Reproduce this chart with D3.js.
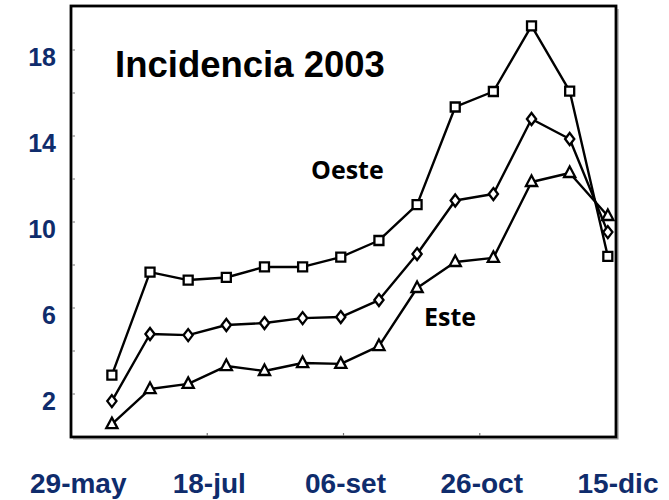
<!DOCTYPE html>
<html>
<head>
<meta charset="utf-8">
<script src="https://cdn.jsdelivr.net/npm/d3@7"></script>
<style>
  html, body { margin: 0; padding: 0; background: #fff; }
  svg { display: block; }
</style>
</head>
<body>
<svg id="chart" width="669" height="500"></svg>
<script>
// ---- Data ----
const fechas = ["2003-06-13","2003-06-27","2003-07-11","2003-07-25","2003-08-08","2003-08-22",
                "2003-09-05","2003-09-19","2003-10-03","2003-10-17","2003-10-31","2003-11-14",
                "2003-11-28","2003-12-12"];
const oeste  = [2.88, 7.67, 7.30, 7.42, 7.91, 7.91, 8.37, 9.14, 10.81, 15.35, 16.07, 19.12, 16.09, 8.40];
const media  = [1.67, 4.79, 4.74, 5.21, 5.30, 5.53, 5.58, 6.37, 8.51, 11.00, 11.30, 14.79, 13.86, 9.53];
const este   = [0.60, 2.23, 2.47, 3.30, 3.07, 3.44, 3.40, 4.23, 6.93, 8.14, 8.33, 11.86, 12.28, 10.28];

const xTickFechas = ["2003-05-29","2003-07-18","2003-09-06","2003-10-26","2003-12-15"];
const xTickLabels = ["29-may","18-jul","06-set","26-oct","15-dic"];
const yTickValues = [2, 4, 6, 8, 10, 12, 14, 16, 18];
const yTickLabels = [2, 6, 10, 14, 18];
const titulo = "Incidencia 2003";
const serieLabels = ["Oeste", "Este"];

// ---- Layout ----
const parse = d3.timeParse("%Y-%m-%d");
const svg = d3.select("#chart");
const plot = { left: 71, right: 616, top: 7, bottom: 437 };
const navy = "#0f2c6c";

const x = d3.scaleTime()
  .domain([parse(xTickFechas[0]), parse(xTickFechas[xTickFechas.length - 1])])
  .range([plot.left, plot.right]);
const y = d3.scaleLinear().domain([0, 20]).range([plot.bottom, plot.top]);

// frame shadow
svg.append("path")
  .attr("d", `M${plot.right + 2},${plot.top + 2} V${plot.bottom + 2} H${plot.left + 2}`)
  .attr("fill", "none").attr("stroke", "#9a9a9a").attr("stroke-width", 1.2);

// frame
svg.append("rect")
  .attr("x", plot.left).attr("y", plot.top - 1)
  .attr("width", plot.right - plot.left).attr("height", plot.bottom - plot.top + 1)
  .attr("fill", "none").attr("stroke", "#000").attr("stroke-width", 2.8);

// y minor ticks (inward)
svg.append("g").selectAll("line").data(yTickValues).join("line")
  .attr("x1", plot.left + 1).attr("x2", plot.left + 4)
  .attr("y1", d => y(d)).attr("y2", d => y(d))
  .attr("stroke", "#777").attr("stroke-width", 1);

// x ticks (inward)
svg.append("g").selectAll("line").data(xTickFechas.slice(1, -1)).join("line")
  .attr("x1", d => x(parse(d))).attr("x2", d => x(parse(d)))
  .attr("y1", plot.bottom - 1).attr("y2", plot.bottom - 4)
  .attr("stroke", "#777").attr("stroke-width", 1.2);

// y labels
svg.append("g").selectAll("text").data(yTickLabels).join("text")
  .attr("x", plot.left - 15)
  .attr("y", d => y(d) + 16)
  .attr("text-anchor", "end")
  .attr("font-family", "Liberation Sans, Arial, sans-serif")
  .attr("font-weight", "bold").attr("font-size", 25)
  .attr("fill", navy)
  .text(d => d);

// x labels
const xl = svg.append("g").selectAll("text").data(xTickFechas).join("text")
  .attr("x", d => x(parse(d)) + 2)
  .attr("y", 493)
  .attr("text-anchor", "middle")
  .attr("font-family", "Liberation Sans, Arial, sans-serif")
  .attr("font-weight", "bold").attr("font-size", 28)
  .attr("fill", navy)
  .text((d, i) => xTickLabels[i]);
// keep labels inside the canvas with a small margin
xl.each(function() {
  const bb = this.getBBox();
  if (bb.x < 30) d3.select(this).attr("x", +d3.select(this).attr("x") + (30 - bb.x));
});

// lines
const series = [
  { vals: oeste, shape: "square" },
  { vals: media, shape: "diamond" },
  { vals: este,  shape: "triangle" }
];
const line = d3.line().x(d => x(d.date)).y(d => y(d.v));

const shapes = {
  square: "M-4.5,-4.5H4.5V4.5H-4.5Z",
  diamond: "M0,-6L4.6,0L0,6L-4.6,0Z",
  triangle: "M0,-6.5L5.6,4L-5.6,4Z"
};

series.forEach(s => {
  const pts = fechas.map((f, i) => ({ date: parse(f), v: s.vals[i] }));
  svg.append("path").datum(pts)
    .attr("d", line)
    .attr("fill", "none").attr("stroke", "#000").attr("stroke-width", 2.4)
    .attr("stroke-linejoin", "round");
  svg.append("g").selectAll("path").data(pts).join("path")
    .attr("transform", d => `translate(${x(d.date)},${y(d.v)})`)
    .attr("d", shapes[s.shape])
    .attr("fill", "#fff").attr("stroke", "#000").attr("stroke-width", 2.3)
    .attr("stroke-linejoin", "miter");
});

// title
svg.append("text")
  .attr("x", 115).attr("y", 77)
  .attr("font-family", "Liberation Sans, Arial, sans-serif")
  .attr("font-weight", "bold").attr("font-size", 36.5)
  .attr("fill", "#000")
  .text(titulo);

// series labels
svg.append("text")
  .attr("x", 311).attr("y", 179)
  .attr("font-family", "Open Sans, sans-serif")
  .attr("font-weight", "bold").attr("font-size", 25)
  .attr("fill", "#000")
  .text(serieLabels[0]);
svg.append("text")
  .attr("x", 424).attr("y", 326)
  .attr("font-family", "Open Sans, sans-serif")
  .attr("font-weight", "bold").attr("font-size", 25)
  .attr("fill", "#000")
  .text(serieLabels[1]);
</script>
</body>
</html>
